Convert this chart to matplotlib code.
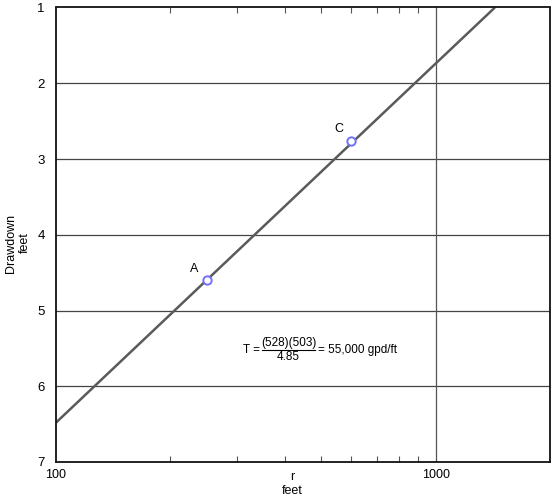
import matplotlib
matplotlib.use("Agg")
import matplotlib.pyplot as plt
from matplotlib.ticker import FixedLocator, NullFormatter, FixedFormatter

plt.rcParams['font.family'] = ['Liberation Sans', 'DejaVu Sans']

# data
line_r = [100, 1432]
line_s = [6.48, 1.0]
pt_labels = ['A', 'C']
pt_r = [250, 600]
pt_s = [4.6, 2.76]
x_major = [100, 1000]
x_major_labels = ['100', '1000']
x_minor = [200, 300, 400, 500, 600, 700, 800, 900]
y_ticks = [1, 2, 3, 4, 5, 6, 7]

W, H = 558, 503
fig = plt.figure(figsize=(W / 100, H / 100), dpi=100)
left, right, top, bottom = 56, 550, 7.5, 462
ax = fig.add_axes([left / W, 1 - bottom / H, (right - left) / W, (bottom - top) / H])

ax.set_xscale('log')
ax.set_xlim(100, 2000)
ax.set_ylim(7, 1)

ax.xaxis.set_major_locator(FixedLocator(x_major))
ax.xaxis.set_major_formatter(FixedFormatter(x_major_labels))
ax.xaxis.set_minor_locator(FixedLocator(x_minor))
ax.xaxis.set_minor_formatter(NullFormatter())
ax.set_yticks(y_ticks)
ax.set_yticklabels([str(v) for v in y_ticks])

ax.tick_params(axis='x', which='major', length=0, pad=5, labelsize=9)
ax.tick_params(axis='x', which='minor', length=4, width=0.8, color='#555555',
               direction='in', top=True, bottom=True)
ax.tick_params(axis='y', which='major', length=0, pad=8, labelsize=9.5)

for y in y_ticks[1:-1]:
    ax.axhline(y, color='#444444', lw=0.9, zorder=1)
ax.axvline(1000, color='#555555', lw=0.9, zorder=1)

for s in ax.spines.values():
    s.set_linewidth(1.3)
    s.set_color('#111111')

ax.plot(line_r, line_s, color='#5a5a5a', lw=1.8, zorder=2, solid_capstyle='butt')
ax.plot(pt_r, pt_s, 'o', ms=6, mfc='white', mec='#7070ff', mew=1.4, zorder=3)
for lab, r, s in zip(pt_labels, pt_r, pt_s):
    ax.annotate(lab, (r, s), xytext=(-6, 4), textcoords='offset points',
                ha='right', va='bottom', fontsize=9)

# axis labels
fig.text(292 / W, 1 - 484 / H, 'r\nfeet', ha='center', va='center',
         fontsize=9, linespacing=1.2)
fig.text(18 / W, 1 - 243 / H, 'Drawdown\nfeet', ha='center', va='center',
         rotation=90, fontsize=9, linespacing=1.2)

# equation
fs = 8.5
fig.text(251 / W, 1 - 350 / H, 'T =', ha='center', va='center', fontsize=fs)
fig.text(288.5 / W, 1 - 343 / H, '(528)(503)', ha='center', va='center', fontsize=fs)
fig.text(288.5 / W, 1 - 357 / H, '4.85', ha='center', va='center', fontsize=fs)
fig.add_artist(plt.Line2D([262 / W, 315 / W], [1 - 350 / H, 1 - 350 / H],
                          color='black', lw=0.8, transform=fig.transFigure))
fig.text(318 / W, 1 - 350 / H, '= 55,000 gpd/ft', ha='left', va='center', fontsize=fs)

fig.savefig('out.png', dpi=100)
